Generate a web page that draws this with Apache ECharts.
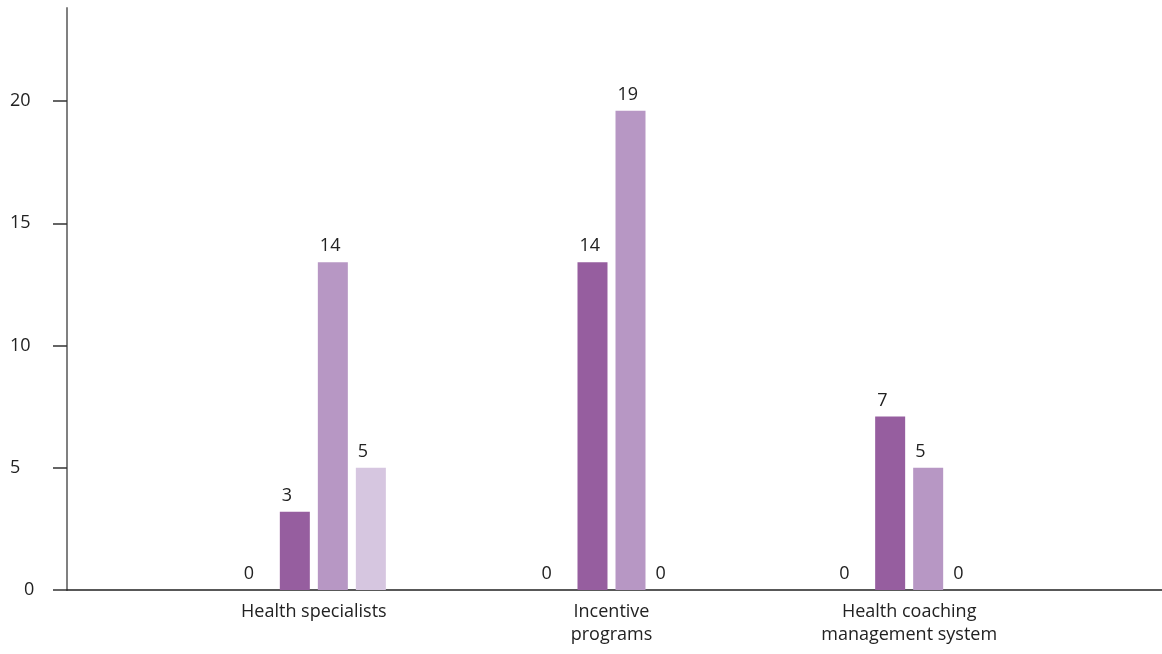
<!DOCTYPE html>
<html>
<head>
<meta charset="utf-8">
<script src="https://cdn.jsdelivr.net/npm/echarts@6/dist/echarts.min.js"></script>
<style>
  html, body { margin: 0; padding: 0; background: #fff; }
  #main { width: 1162px; height: 654px; }
</style>
</head>
<body>
<div id="main"></div>
<script>
// categories (line breaks as in the original axis labels)
var categories = ['Health specialists', 'Incentive\nprograms', 'Health coaching\nmanagement system'];

// bar heights
var series1Values = [0, 0, 0];
var series2Values = [3.2, 13.4, 7.1];
var series3Values = [13.4, 19.6, 5.0];
var series4Values = [5.0, 0, 0];

// data labels printed above the bars
var series1Labels = ['0', '0', '0'];
var series2Labels = ['3', '14', '7'];
var series3Labels = ['14', '19', '5'];
var series4Labels = ['5', '0', '0'];

// y axis ticks
var yMin = 0;
var yMax = 20;
var yStep = 5;
var yAxisTop = 23.8;

var FONT = 'Open Sans';
var FSIZE = 18;
var TEXT = '#222';
var colors = ['#7d4a88', '#965e9f', '#b797c4', '#d6c6e0'];

var chart = echarts.init(document.getElementById('main'));

function barSeries(values, labels, idx) {
  return {
    type: 'bar',
    xAxisIndex: 2,
    yAxisIndex: 2,
    data: values,
    barWidth: 30,
    barGap: '26.7%',
    itemStyle: { color: colors[idx] },
    label: {
      show: true,
      position: 'top',
      distance: 7,
      align: 'left',
      offset: [-13, 0],
      fontFamily: FONT,
      fontSize: FSIZE,
      color: TEXT,
      formatter: function (p) { return labels[p.dataIndex]; }
    },
    emphasis: { disabled: true }
  };
}

var option = {
  backgroundColor: '#fff',
  animation: false,
  grid: [
    { left: 67, right: 0, top: 8, bottom: 64 },     // axis lines
    { left: 67, right: 0, top: 101, bottom: 64 },   // y labels + ticks
    { left: 165, right: 104, top: 101, bottom: 64 } // bars
  ],
  xAxis: [
    {
      gridIndex: 0, type: 'value', min: 0, max: 1,
      axisLine: { show: true, lineStyle: { color: '#222', width: 1.5 } },
      axisTick: { show: false }, axisLabel: { show: false }, splitLine: { show: false }
    },
    { gridIndex: 1, type: 'value', min: 0, max: 1, show: false },
    {
      gridIndex: 2, type: 'category', data: categories,
      axisLine: { show: false }, axisTick: { show: false },
      axisLabel: {
        interval: 0, margin: 10,
        fontFamily: FONT, fontSize: FSIZE, lineHeight: 23, color: TEXT
      }
    }
  ],
  yAxis: [
    {
      gridIndex: 0, type: 'value', min: 0, max: yAxisTop,
      axisLine: { show: true, lineStyle: { color: '#808080', width: 2 } },
      axisTick: { show: false }, axisLabel: { show: false }, splitLine: { show: false }
    },
    {
      gridIndex: 1, type: 'value', min: yMin, max: yMax, interval: yStep,
      axisLine: { show: false },
      axisTick: { show: true, length: 14, lineStyle: { color: '#333', width: 1.5 } },
      splitLine: { show: false },
      axisLabel: {
        align: 'left', margin: 57,
        fontFamily: FONT, fontSize: FSIZE, color: TEXT,
        formatter: function (v) { return v === 0 ? '{z|0}' : String(v); },
        rich: { z: { padding: [0, 0, 0, 14], fontFamily: FONT, fontSize: FSIZE, color: TEXT } }
      }
    },
    { gridIndex: 2, type: 'value', min: yMin, max: yMax, show: false }
  ],
  series: [
    barSeries(series1Values, series1Labels, 0),
    barSeries(series2Values, series2Labels, 1),
    barSeries(series3Values, series3Labels, 2),
    barSeries(series4Values, series4Labels, 3)
  ]
};

chart.setOption(option);
</script>
</body>
</html>
